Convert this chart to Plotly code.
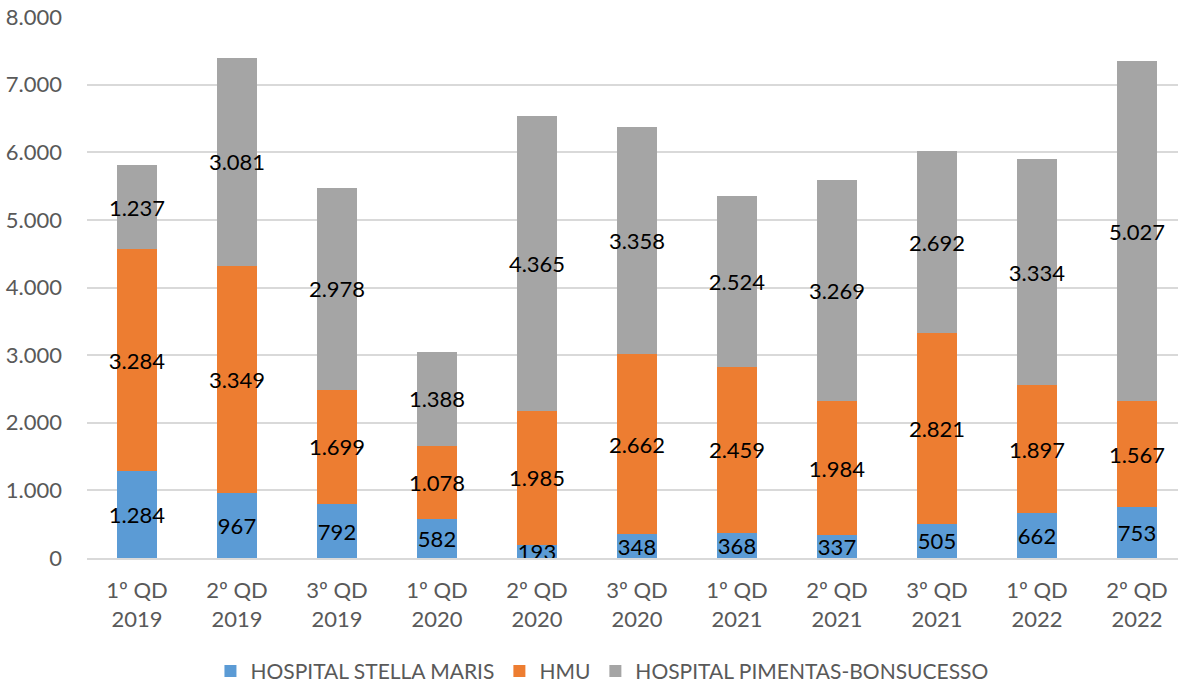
import plotly.graph_objects as go

categories = ["1º QD<br>2019", "2º QD<br>2019", "3º QD<br>2019", "1º QD<br>2020", "2º QD<br>2020",
              "3º QD<br>2020", "1º QD<br>2021", "2º QD<br>2021", "3º QD<br>2021", "1º QD<br>2022", "2º QD<br>2022"]
stella_maris = [1284, 967, 792, 582, 193, 348, 368, 337, 505, 662, 753]
hmu = [3284, 3349, 1699, 1078, 1985, 2662, 2459, 1984, 2821, 1897, 1567]
pimentas = [1237, 3081, 2978, 1388, 4365, 3358, 2524, 3269, 2692, 3334, 5027]
y_ticks = [0, 1000, 2000, 3000, 4000, 5000, 6000, 7000, 8000]

series = [
    ("HOSPITAL STELLA MARIS", stella_maris, "#5B9BD5"),
    ("HMU", hmu, "#ED7D31"),
    ("HOSPITAL PIMENTAS-BONSUCESSO", pimentas, "#A5A5A5"),
]

def fmt(v):
    return f"{v:,}".replace(",", ".")

FONT = "Lato"
fig = go.Figure()
for name, vals, color in series:
    fig.add_trace(go.Bar(
        x=list(range(len(categories))), y=vals, name=name,
        marker=dict(color=color, line=dict(width=0)),
        text=[fmt(v) for v in vals],
        textposition="inside", insidetextanchor="middle",
        constraintext="none", textangle=0,
        textfont=dict(family=FONT, size=22, color="#000000"),
        width=0.4,
    ))

fig.update_layout(
    template="none",
    barmode="stack",
    width=1178, height=685,
    margin=dict(l=87, r=0, t=17, b=127, autoexpand=False),
    paper_bgcolor="white", plot_bgcolor="white",
    font=dict(family=FONT, color="#595959"),
    legend=dict(orientation="h", x=0.472, xanchor="center", y=-0.2095, yanchor="middle",
                font=dict(family=FONT, size=21, color="#595959"),
                itemwidth=30, traceorder="normal", bgcolor="rgba(0,0,0,0)"),
    xaxis=dict(
        tickmode="array", tickvals=list(range(len(categories))), ticktext=categories,
        range=[-0.5, 10.41], showgrid=False, zeroline=False, automargin=False,
        showline=True, linecolor="#D9D9D9", linewidth=1.5,
        tickfont=dict(family=FONT, size=22, color="#595959"),
        ticks="", ticklabelstandoff=12,
    ),
    yaxis=dict(
        range=[0, 8000], tickmode="array", tickvals=y_ticks,
        ticktext=[fmt(v) for v in y_ticks], automargin=False,
        showgrid=True, gridcolor="#D9D9D9", gridwidth=1.5, zeroline=False,
        showline=False,
        tickfont=dict(family=FONT, size=22, color="#595959"),
        ticks="", ticklabelstandoff=24,
    ),
)

# remove the browser's default 8px body margin so the figure fills the window exactly
fig.write_html("out.html", config={"displayModeBar": False},
               post_script="document.body.style.margin='0px';")
